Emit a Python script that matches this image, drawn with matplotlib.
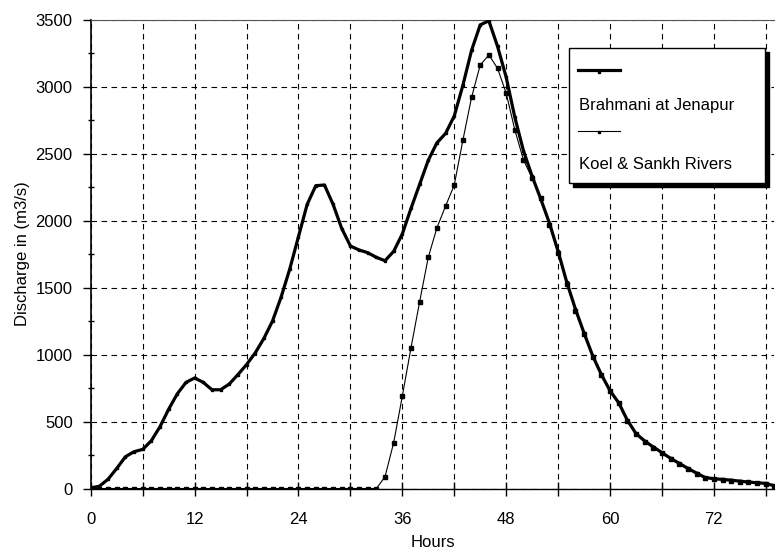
import matplotlib
matplotlib.use('Agg')
import matplotlib.pyplot as plt
from matplotlib.patches import Rectangle
from matplotlib.ticker import MultipleLocator

plt.rcParams['font.family'] = ['Liberation Sans', 'DejaVu Sans']
plt.rcParams['font.size'] = 12

# hourly discharge
hours = list(range(0, 80))
brahmani = [5, 17, 70, 150, 237, 275, 292, 357, 462, 592,
            707, 792, 825, 792, 737, 737, 780, 850, 925, 1012,
            1120, 1250, 1430, 1640, 1880, 2120, 2260, 2265, 2120, 1940,
            1810, 1780, 1760, 1725, 1700, 1770, 1900, 2090, 2270, 2450,
            2580, 2650, 2780, 3010, 3270, 3460, 3490, 3300, 3070, 2770,
            2520, 2330, 2160, 1980, 1770, 1540, 1340, 1160, 990, 850,
            730, 640, 510, 410, 355, 310, 268, 225, 188, 150,
            115, 82, 73, 68, 62, 55, 48, 43, 38, 20]
koel = [0] * 34 + [88, 342, 690, 1050, 1394, 1726, 1946, 2108, 2265, 2600,
                   2919, 3160, 3235, 3136, 2950, 2676, 2452, 2315, 2166, 1965,
                   1755, 1525, 1325, 1150, 985, 845, 725, 635, 505, 405,
                   350, 305, 263, 220, 184, 146, 112, 79, 70, 65,
                   59, 52, 45, 40, 35, 18]

fig = plt.figure(figsize=(7.76, 5.51), dpi=100)
ax = fig.add_axes([0.117, 0.1134, 0.881, 0.8512])

ax.plot(hours, brahmani, color='black', lw=2.3, marker='s', ms=2, zorder=4)
ax.plot(hours, koel, color='black', lw=0.8, marker='s', ms=2.2, zorder=3)

ax.set_xlim(0, 79)
ax.set_ylim(0, 3500)
ax.xaxis.set_major_locator(MultipleLocator(12))
ax.xaxis.set_minor_locator(MultipleLocator(6))
ax.yaxis.set_major_locator(MultipleLocator(500))
ax.yaxis.set_minor_locator(MultipleLocator(250))

dash = (0, (5, 4))
ax.grid(True, which='major', axis='both', color='black', lw=0.8, linestyle=dash)
ax.grid(True, which='minor', axis='x', color='black', lw=0.8, linestyle=dash)
ax.set_axisbelow(True)

ax.tick_params(axis='y', which='major', direction='out', length=6, width=1, pad=7)
ax.tick_params(axis='y', which='minor', direction='inout', length=5, width=1)
ax.tick_params(axis='x', which='both', direction='inout', length=10, width=1, pad=12)

ax.spines['right'].set_visible(False)
ax.spines['top'].set_color('#555555')
ax.spines['left'].set_linewidth(1.2)
ax.spines['bottom'].set_linewidth(1.0)

ax.set_xlabel('Hours', labelpad=6)
ax.set_ylabel('Discharge in (m3/s)', labelpad=4)

# legend in the old spreadsheet style: line sample above each label
ax.add_patch(Rectangle((0.7053, 0.6428), 0.287, 0.288, transform=ax.transAxes,
                       facecolor='black', edgecolor='black', zorder=5, clip_on=False))
ax.add_patch(Rectangle((0.699, 0.652), 0.287, 0.288, transform=ax.transAxes,
                       facecolor='white', edgecolor='black', lw=1, zorder=6, clip_on=False))
ax.plot([0.7127, 0.7746], [0.892, 0.892], transform=ax.transAxes, color='black',
        lw=2.3, zorder=7, clip_on=False)
ax.plot([0.7436], [0.889], transform=ax.transAxes, color='black', marker='s', ms=2,
        zorder=7, clip_on=False)
ax.text(0.7142, 0.8156, 'Brahmani at Jenapur', transform=ax.transAxes,
        va='center', ha='left', zorder=7)
ax.plot([0.7127, 0.7746], [0.762, 0.762], transform=ax.transAxes, color='black',
        lw=0.8, zorder=7, clip_on=False)
ax.plot([0.7436], [0.760], transform=ax.transAxes, color='black', marker='s', ms=2,
        zorder=7, clip_on=False)
ax.text(0.7142, 0.690, 'Koel & Sankh Rivers', transform=ax.transAxes,
        va='center', ha='left', zorder=7)

fig.savefig('out.png', dpi=100)
